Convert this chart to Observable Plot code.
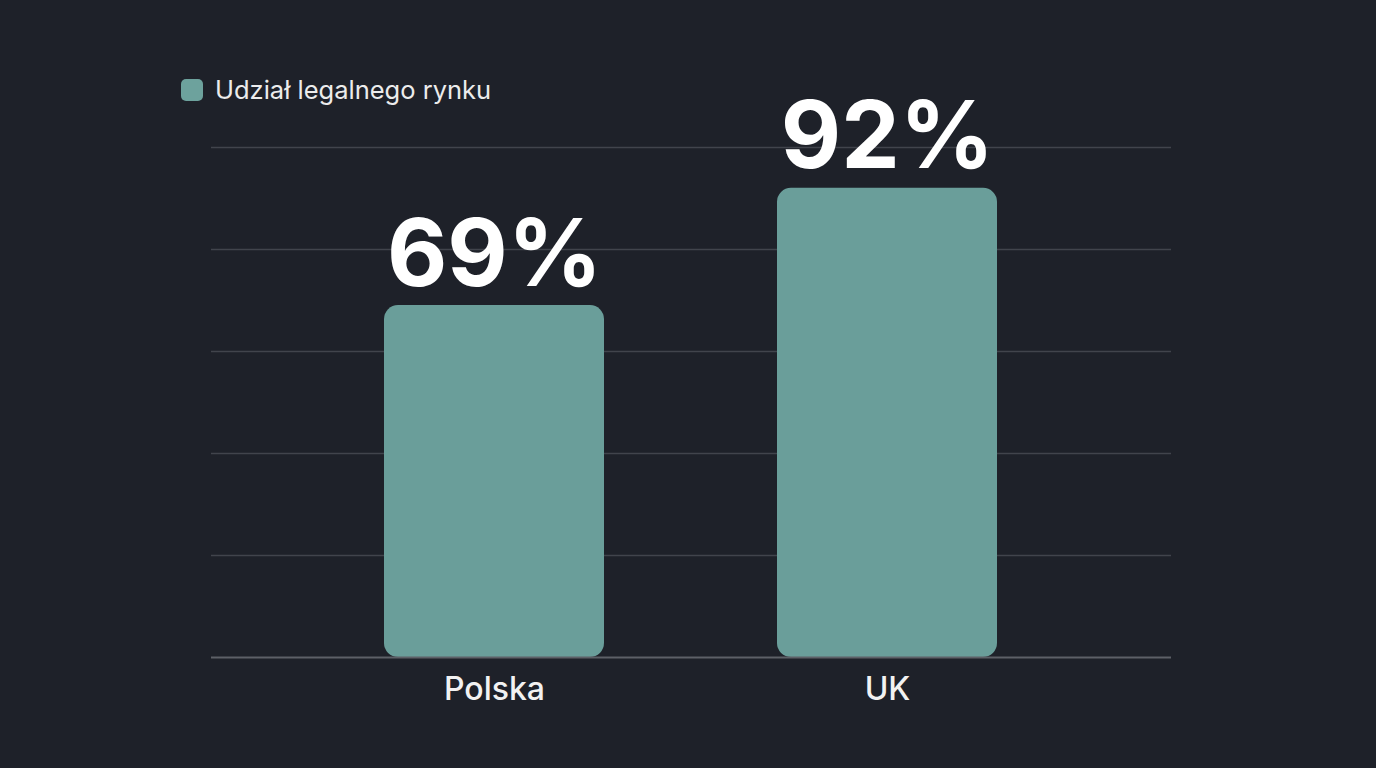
<!DOCTYPE html>
<html>
<head>
<meta charset="utf-8">
<script src="https://cdn.jsdelivr.net/npm/d3@7"></script>
<script src="https://cdn.jsdelivr.net/npm/@observablehq/plot@0.6"></script>
<style>
  html, body { margin: 0; padding: 0; background: #1e2129; }
  body { width: 1376px; height: 768px; position: relative; overflow: hidden; font-family: Inter, "Noto Sans", sans-serif; }
  #legend { position: absolute; left: 181px; top: 74px; display: flex; align-items: center; gap: 12px; color: #ececec; font-size: 25.5px; }
  #legend .sw { width: 22px; height: 22px; border-radius: 5px; background: #6da29d; }
  #chart { position: absolute; left: 0; top: 0; }
</style>
</head>
<body>
<div id="legend"><span class="sw"></span><span id="legend-label"></span></div>
<div id="chart"></div>
<script>
const seriesName = "Udział legalnego rynku";
const countries = ["Polska", "UK"];
const shares = [69, 92];
const gridTicks = [0, 20, 40, 60, 80, 100];

document.getElementById("legend-label").textContent = seriesName;

const data = countries.map((c, i) => ({country: c, value: shares[i]}));

const chart = Plot.plot({
  width: 1376,
  height: 768,
  marginLeft: 211,
  marginRight: 205,
  marginTop: 147,
  marginBottom: 111,
  style: {background: "transparent", fontFamily: "Inter, 'Noto Sans', sans-serif"},
  x: {domain: countries, padding: 0.44, label: null},
  y: {domain: [0, 100], axis: null},
  marks: [
    Plot.ruleY(gridTicks.filter(d => d > 0), {stroke: "#41444c", strokeWidth: 1.5}),
    Plot.barY(data, {x: "country", y: "value", fill: "#6a9e9a", rx: 14}),
    Plot.ruleY([0], {stroke: "#5d6067", strokeWidth: 2}),
    Plot.text(data, {x: "country", y: "value", text: d => d.value + "%", fill: "#ffffff", fontSize: 93, fontWeight: 700, lineAnchor: "bottom", dy: -20, style: "letter-spacing:-3px"}),
    Plot.axisX({tickSize: 0, tickPadding: 20, fontSize: 32, fontWeight: 500, color: "#f2f2f2", label: null})
  ]
});
document.getElementById("chart").appendChild(chart);
</script>
</body>
</html>
